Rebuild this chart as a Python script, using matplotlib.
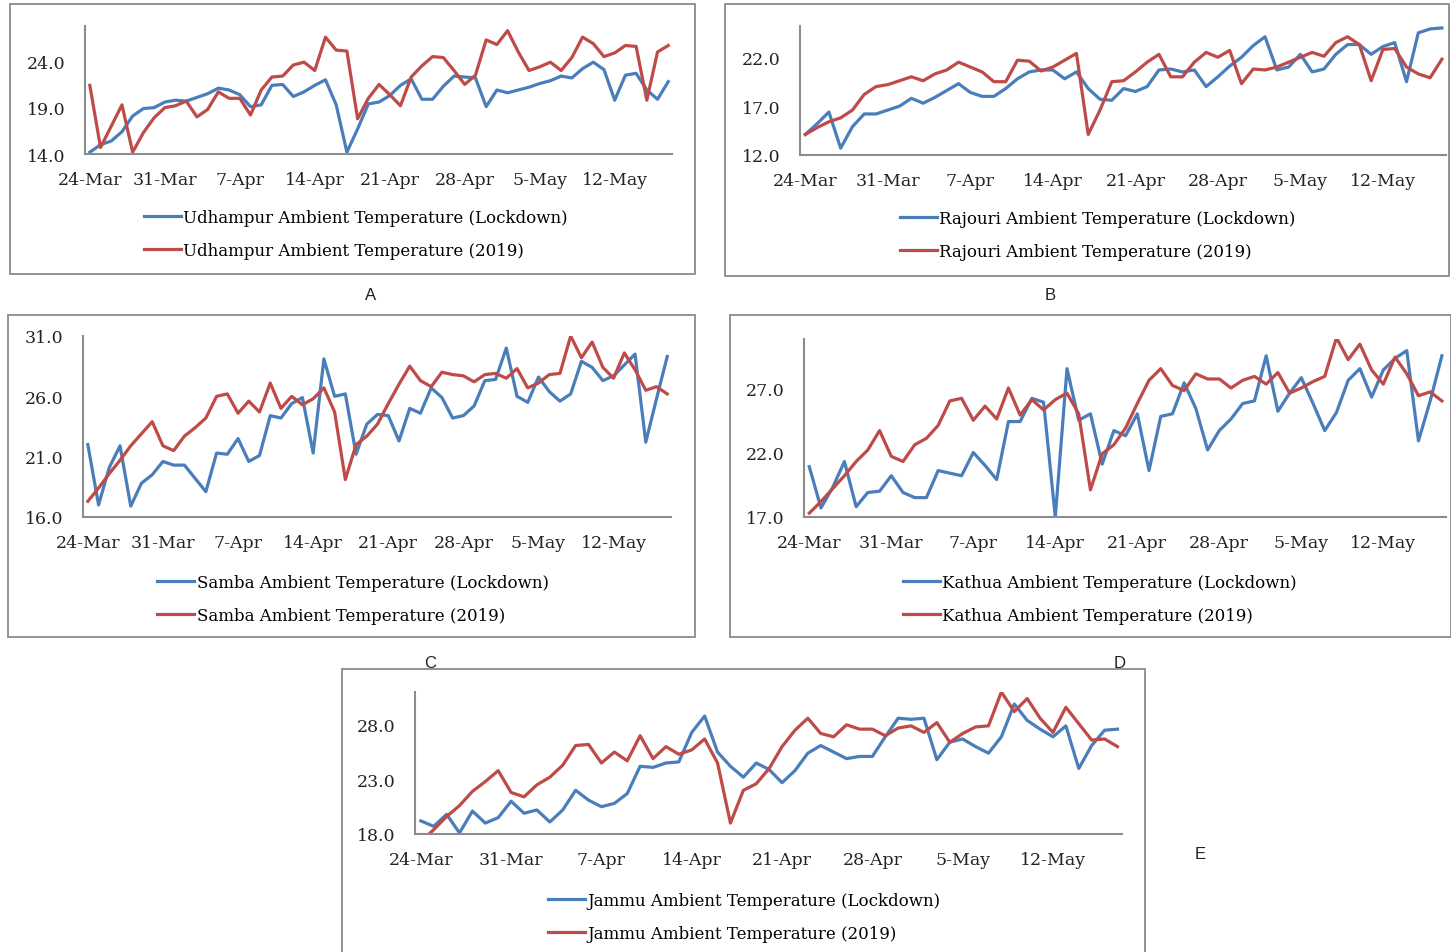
"""Ambient temperature, lockdown 2020 vs 2019, for five districts of Jammu division."""
import matplotlib.pyplot as plt
import numpy as np
import pandas as pd
from matplotlib.patches import Rectangle

W, H = 1451, 953

days = pd.date_range("2020-03-24", "2020-05-17", freq="D")
tick_labels = [f"{d.day}-{d.strftime('%b')}" for d in days[::7]]

udhampur_lockdown = [
    14.2, 15.0, 15.4, 16.4, 18.1, 18.9, 19.0, 19.6, 19.8, 19.7, 20.1, 20.5, 21.1, 20.9,
    20.4, 19.1, 19.3, 21.4, 21.5, 20.2, 20.7, 21.4, 22.0, 19.3, 14.2, 16.7, 19.4, 19.6,
    20.3, 21.4, 22.1, 19.9, 19.9, 21.3, 22.4, 22.3, 22.2, 19.1, 20.9, 20.6, 20.9, 21.2,
    21.6, 21.9, 22.4, 22.2, 23.2, 23.9, 23.1, 19.8, 22.5, 22.7, 20.9, 19.9, 21.8,
]
udhampur_2019 = [
    21.4, 14.7, 17.0, 19.3, 14.2, 16.3, 17.9, 19.0, 19.2, 19.7, 18.0, 18.8, 20.7, 20.0,
    20.0, 18.2, 20.9, 22.3, 22.4, 23.6, 23.9, 23.0, 26.6, 25.2, 25.1, 17.8, 20.0, 21.5,
    20.4, 19.2, 22.3, 23.5, 24.5, 24.4, 23.0, 21.5, 22.5, 26.3, 25.8, 27.3, 25.0, 23.0,
    23.4, 23.9, 23.0, 24.4, 26.6, 25.9, 24.5, 24.9, 25.7, 25.6, 19.8, 25.0, 25.7,
]

rajouri_lockdown = [
    14.1, 15.2, 16.4, 12.7, 14.9, 16.2, 16.2, 16.6, 17.0, 17.8, 17.3, 17.9, 18.6, 19.3,
    18.4, 18.0, 18.0, 18.8, 19.8, 20.5, 20.7, 20.7, 19.8, 20.5, 18.8, 17.7, 17.6, 18.8,
    18.5, 19.0, 20.7, 20.8, 20.5, 20.7, 19.0, 20.0, 21.1, 22.0, 23.2, 24.1, 20.7, 21.0,
    22.3, 20.5, 20.8, 22.3, 23.3, 23.3, 22.3, 23.1, 23.5, 19.5, 24.5, 24.9, 25.0,
]
rajouri_2019 = [
    14.1, 14.8, 15.4, 15.8, 16.6, 18.2, 19.0, 19.2, 19.6, 20.0, 19.6, 20.3, 20.7, 21.5,
    21.0, 20.5, 19.5, 19.5, 21.7, 21.6, 20.6, 21.0, 21.7, 22.4, 14.1, 16.6, 19.5, 19.6,
    20.5, 21.5, 22.3, 20.0, 20.0, 21.5, 22.5, 22.0, 22.7, 19.3, 20.8, 20.7, 21.0, 21.5,
    22.0, 22.5, 22.1, 23.5, 24.1, 23.3, 19.6, 22.8, 22.9, 21.0, 20.3, 19.9, 21.8,
]

samba_lockdown = [
    22.0, 17.0, 20.1, 21.9, 16.9, 18.8, 19.5, 20.6, 20.3, 20.3, 19.2, 18.1, 21.3, 21.2,
    22.5, 20.6, 21.1, 24.4, 24.2, 25.4, 25.9, 21.3, 29.1, 26.0, 26.2, 21.2, 23.7, 24.5,
    24.4, 22.3, 25.0, 24.6, 26.7, 25.9, 24.2, 24.4, 25.2, 27.3, 27.4, 30.0, 26.0, 25.5,
    27.6, 26.4, 25.6, 26.2, 28.9, 28.4, 27.3, 27.7, 28.6, 29.5, 22.2, 25.8, 29.3,
]
samba_2019 = [
    17.3, 18.4, 19.6, 20.7, 21.9, 22.9, 23.9, 21.9, 21.5, 22.7, 23.4, 24.2, 26.0, 26.2,
    24.6, 25.6, 24.7, 27.1, 25.0, 26.0, 25.3, 25.8, 26.7, 24.7, 19.1, 22.0, 22.7, 23.7,
    25.4, 27.0, 28.5, 27.3, 26.8, 28.0, 27.8, 27.7, 27.2, 27.8, 27.9, 27.5, 28.3, 26.7,
    27.1, 27.8, 27.9, 31.0, 29.2, 30.5, 28.4, 27.5, 29.6, 28.2, 26.5, 26.8, 26.2,
]

kathua_lockdown = [
    20.9, 17.7, 19.3, 21.3, 17.8, 18.9, 19.0, 20.2, 18.9, 18.5, 18.5, 20.6, 20.4, 20.2,
    22.0, 21.0, 19.9, 24.4, 24.4, 26.2, 25.9, 17.0, 28.5, 24.5, 25.0, 21.1, 23.7, 23.3,
    25.0, 20.6, 24.8, 25.0, 27.4, 25.4, 22.2, 23.7, 24.6, 25.8, 26.0, 29.5, 25.2, 26.6,
    27.8, 25.8, 23.7, 25.1, 27.6, 28.5, 26.3, 28.4, 29.3, 29.9, 22.9, 26.0, 29.5,
]
kathua_2019 = [
    17.3, 18.2, 19.2, 20.2, 21.3, 22.2, 23.7, 21.7, 21.3, 22.6, 23.1, 24.1, 26.0, 26.2,
    24.5, 25.6, 24.6, 27.0, 24.9, 26.1, 25.3, 26.1, 26.6, 25.0, 19.1, 21.9, 22.6, 23.9,
    25.8, 27.6, 28.5, 27.2, 26.8, 28.1, 27.7, 27.7, 27.0, 27.6, 27.9, 27.3, 28.2, 26.6,
    27.0, 27.5, 27.9, 30.9, 29.2, 30.4, 28.4, 27.3, 29.4, 28.1, 26.4, 26.7, 26.0,
]

jammu_lockdown = [
    19.2, 18.7, 19.8, 18.1, 20.1, 19.0, 19.5, 21.0, 19.9, 20.2, 19.1, 20.2, 22.0, 21.1,
    20.5, 20.8, 21.7, 24.2, 24.1, 24.5, 24.6, 27.3, 28.8, 25.5, 24.2, 23.2, 24.5, 23.9,
    22.7, 23.8, 25.4, 26.1, 25.5, 24.9, 25.1, 25.1, 26.9, 28.6, 28.5, 28.6, 24.8, 26.4,
    26.7, 26.0, 25.4, 26.9, 29.9, 28.4, 27.6, 26.9, 27.9, 24.0, 26.1, 27.5, 27.6,
]
jammu_2019 = [
    17.3, 18.4, 19.6, 20.6, 21.9, 22.8, 23.8, 21.8, 21.4, 22.5, 23.2, 24.3, 26.1, 26.2,
    24.5, 25.5, 24.7, 27.0, 24.9, 26.0, 25.3, 25.7, 26.7, 24.5, 19.0, 22.0, 22.6, 24.0,
    26.0, 27.5, 28.6, 27.2, 26.9, 28.0, 27.6, 27.6, 27.0, 27.7, 27.9, 27.3, 28.2, 26.4,
    27.2, 27.8, 27.9, 31.0, 29.2, 30.4, 28.6, 27.3, 29.6, 28.1, 26.6, 26.7, 26.0,
]

BLUE = "#4a7ebb"
RED = "#be4b48"
SPINE = "#8c8c8c"

# name, axes rect (px: left, top, right, bottom), y ticks, y max, frame rect (px),
# legend anchor (px), panel letter position (px)
panels = [
    ("Udhampur", udhampur_lockdown, udhampur_2019, (85, 27, 672, 155), [14, 19, 24], 27.8,
     (10, 5, 695, 275), (356, 210), "A", (371, 296)),
    ("Rajouri", rajouri_lockdown, rajouri_2019, (800, 27, 1446, 156), [12, 17, 22], 25.2,
     (725, 5, 1449, 277), (1098, 211), "B", (1050, 296)),
    ("Samba", samba_lockdown, samba_2019, (83, 337, 671, 518), [16, 21, 26, 31], 31.0,
     (8, 316, 695, 638), (353, 575), "C", (430, 663)),
    ("Kathua", kathua_lockdown, kathua_2019, (804, 340, 1446, 518), [17, 22, 27], 30.8,
     (730, 316, 1451, 638), (1100, 575), "D", (1120, 663)),
    ("Jammu", jammu_lockdown, jammu_2019, (415, 693, 1122, 835), [18, 23, 28], 31.0,
     (342, 670, 1145, 960), (744, 893), "E", (1200, 855)),
]

plt.rcParams["font.family"] = ["DejaVu Serif"]

fig = plt.figure(figsize=(W / 100, H / 100), dpi=100)
fig.patch.set_facecolor("white")

x = np.arange(len(days))

for name, lock, prev, (l, t, r, b), yticks, ymax, frame, leg_xy, letter, letter_xy in panels:
    ax = fig.add_axes([l / W, 1 - b / H, (r - l) / W, (b - t) / H])
    ax.plot(x, lock, color=BLUE, lw=2.3, label=f"{name} Ambient Temperature (Lockdown)",
            solid_joinstyle="round")
    ax.plot(x, prev, color=RED, lw=2.3, label=f"{name} Ambient Temperature (2019)",
            solid_joinstyle="round")

    ax.set_xlim(-0.45, 54.35)
    ax.set_ylim(yticks[0], ymax)
    ax.set_xticks(x[::7], tick_labels)
    ax.set_yticks(yticks, [f"{v:.1f}" for v in yticks])
    ax.tick_params(length=0, labelsize=12.5, colors="#222222")
    ax.tick_params(axis="y", pad=14)
    ax.tick_params(axis="x", pad=12)
    for side in ("top", "right"):
        ax.spines[side].set_visible(False)
    for side in ("left", "bottom"):
        ax.spines[side].set_color(SPINE)
        ax.spines[side].set_linewidth(1.5)

    ax.legend(loc="upper center", bbox_to_anchor=(leg_xy[0] / W, 1 - leg_xy[1] / H),
              bbox_transform=fig.transFigure, frameon=False, fontsize=12,
              handlelength=2.2, handletextpad=0.15, labelspacing=0.95,
              borderaxespad=0, borderpad=0)

    fl, ft, fr, fb = frame
    fig.add_artist(Rectangle((fl / W, 1 - fb / H), (fr - fl) / W, (fb - ft) / H,
                             transform=fig.transFigure, fill=False,
                             edgecolor="#8a8a8a", lw=1.3))
    fig.text(letter_xy[0] / W, 1 - letter_xy[1] / H, letter, ha="center", va="center",
             fontsize=12, family="Liberation Sans", color="#222222")

fig.savefig("out.png", dpi=100)
